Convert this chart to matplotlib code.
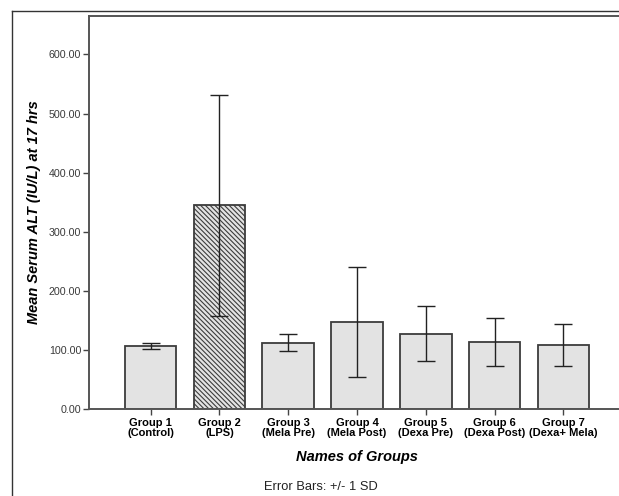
import numpy as np
import matplotlib
matplotlib.use("Agg")
import matplotlib.pyplot as plt
import matplotlib.lines as lines
from matplotlib.transforms import blended_transform_factory

# data
groups = ['Group 1\n(Control)', 'Group 2\n(LPS)', 'Group 3\n(Mela Pre)', 'Group 4\n(Mela Post)',
          'Group 5\n(Dexa Pre)', 'Group 6\n(Dexa Post)', 'Group 7\n(Dexa+ Mela)']
means = [106, 345, 112.5, 147, 127.5, 113.5, 108]
sds = [5, 187, 14, 93, 46, 41, 35]
yticks = [0, 100, 200, 300, 400, 500, 600]

plt.rcParams['font.family'] = ['Liberation Sans', 'DejaVu Sans']
plt.rcParams['hatch.color'] = '#444444'
plt.rcParams['hatch.linewidth'] = 0.8

fig = plt.figure(figsize=(6.19, 4.96), dpi=100)
W, H = 619, 496
ax = fig.add_axes([89.3 / W, 1 - 409 / H, 1 - 89.3 / W, (409 - 15.7) / H])

x = np.arange(len(groups))
bars = ax.bar(x, means, width=0.75, color='#e3e3e3', edgecolor='#3c3c3c', linewidth=1.3, zorder=2)
bars[1].set_hatch('\\\\\\\\\\\\\\')
ax.errorbar(x, means, yerr=sds, fmt='none', ecolor='#222222', elinewidth=1.0,
            capsize=6.5, capthick=1.0, zorder=3)

ax.set_xlim(-0.893, 6.81)
ax.set_ylim(0, 665.5)
ax.set_yticks(yticks)
ax.set_yticklabels(['%.2f' % v for v in yticks], fontsize=7.7, color='#3a3a3a')
ax.set_xticks(x)
ax.set_xticklabels(groups, fontsize=8.0, fontweight='bold', linespacing=0.92)
ax.tick_params(axis='y', direction='out', length=4.3, width=1, color='#444444', pad=1.5)
ax.tick_params(axis='x', direction='out', length=4.3, width=1, color='#444444', pad=2.5)

for s in ['left', 'top', 'bottom']:
    ax.spines[s].set_color('#555555')
    ax.spines[s].set_linewidth(1.4)
ax.spines['right'].set_visible(False)

ax.set_ylabel('Mean Serum ALT (IU/L) at 17 hrs', fontsize=10.5, fontweight='bold',
              fontstyle='italic', labelpad=6)
ax.set_xlabel('Names of Groups', fontsize=10.5, fontweight='bold', fontstyle='italic')
ax.xaxis.label.set_va('center')
ax.xaxis.set_label_coords(3, -0.122, transform=blended_transform_factory(ax.transData, ax.transAxes))

fig.text(320.8 / W, 1 - 487.3 / H, 'Error Bars: +/- 1 SD', fontsize=9.3, color='#222222',
         ha='center', va='center')

# outer frame
fig.add_artist(lines.Line2D([11.7 / W, 11.7 / W], [0, 1 - 10.7 / H], color='#333333', linewidth=1.0))
fig.add_artist(lines.Line2D([11.7 / W, 1], [1 - 10.7 / H, 1 - 10.7 / H], color='#333333', linewidth=1.0))

fig.savefig('out.png', dpi=100)
